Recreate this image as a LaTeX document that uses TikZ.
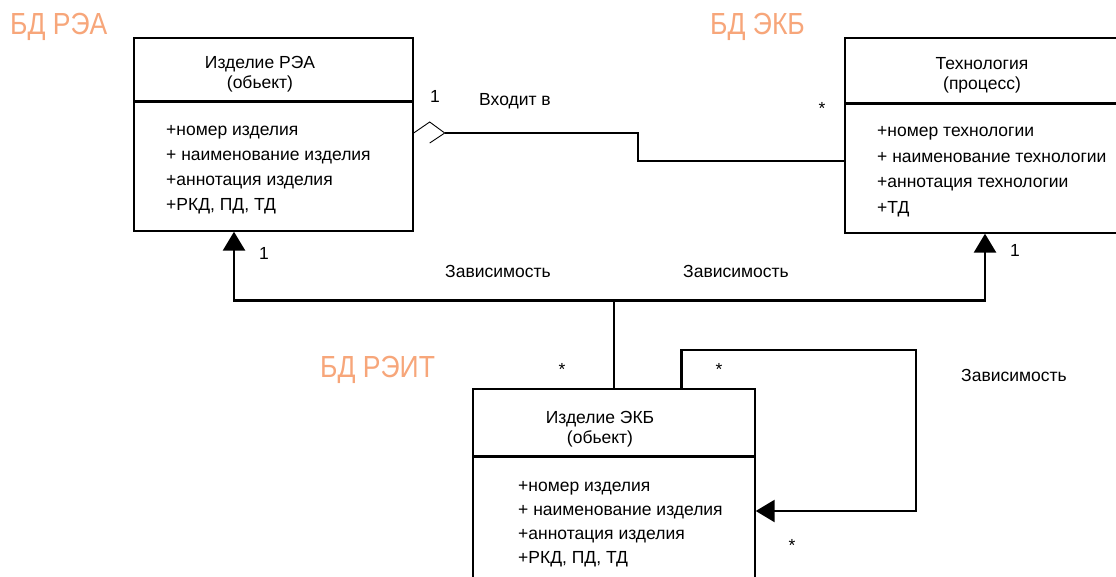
\documentclass[tikz,border=0pt]{standalone}
\usepackage{fontspec}
\setmainfont{Liberation Sans}
\newfontfamily\bdfont[FakeStretch=0.87]{Liberation Sans}
\usetikzlibrary{arrows.meta}
\definecolor{bdorange}{RGB}{247,166,122}
\tikzset{
  umlbox/.style={draw, line width=1.4pt, inner sep=0pt, fill=none},
  divider/.style={line width=3pt},
  conn/.style={line width=2.8pt},
  loopconn/.style={line width=2.5pt},
  deparrow/.style={-{Triangle[width=22pt,length=19pt]}},
  txt/.style={inner sep=0pt, font=\fontsize{17.5}{20}\selectfont},
  attr/.style={txt, anchor=base west},
  ttl/.style={txt, anchor=base},
  lbl/.style={txt, anchor=base},
  bd/.style={inner sep=0pt, anchor=base west, text=bdorange, font=\bdfont\fontsize{30.5}{34}\selectfont}
}
\begin{document}
\begin{tikzpicture}[x=1pt,y=-1pt]
\useasboundingbox (0,0) rectangle (1116,577);
\clip (0,0) rectangle (1116,577);
\fill[white] (0,0) rectangle (1116,577);

% helper heights
\coordinate (h133) at (0,133);
\coordinate (h161) at (0,161);
\coordinate (h511) at (0,511);

% boxes
\node[umlbox, minimum width=279pt, minimum height=193pt] (rea) at (273.5,134.5) {};
\node[umlbox, minimum width=300pt, minimum height=195pt] (tech) at (995,135.5) {};
\node[umlbox, minimum width=282pt, minimum height=221pt] (ekb) at (614,499.5) {};

\draw[divider] ([yshift=-64pt]rea.north west) -- ([yshift=-64pt]rea.north east);
\draw[divider] ([yshift=-66pt]tech.north west) -- ([yshift=-66pt]tech.north east);
\draw[divider] ([yshift=-68pt]ekb.north west) -- ([yshift=-68pt]ekb.north east);

% left box texts
\node[ttl] (reaT1) at (260,69) {Изделие РЭА};
\node[ttl] (reaT2) at (260,89) {(обьект)};
\node[attr] (reaA1) at (166,136) {+номер изделия};
\node[attr] (reaA2) at (166,161) {+ наименование изделия};
\node[attr] (reaA3) at (166,186) {+аннотация изделия};
\node[attr] (reaA4) at (166,211) {+РКД, ПД, ТД};

% right box texts
\node[ttl] (techT1) at (982,70) {Технология};
\node[ttl] (techT2) at (982,90) {(процесс)};
\node[attr] (techA1) at (877,137) {+номер технологии};
\node[attr] (techA2) at (877,163) {+ наименование технологии};
\node[attr] (techA3) at (877,188) {+аннотация технологии};
\node[attr] (techA4) at (877,214) {+ТД};

% bottom box texts
\node[ttl] (ekbT1) at (600,423) {Изделие ЭКБ};
\node[ttl] (ekbT2) at (600,443) {(обьект)};
\node[attr] (ekbA1) at (518,491) {+номер изделия};
\node[attr] (ekbA2) at (518,515) {+ наименование изделия};
\node[attr] (ekbA3) at (518,539) {+аннотация изделия};
\node[attr] (ekbA4) at (518,563) {+РКД, ПД, ТД};

% orange database labels
\node[bd] (bdRea) at (10,35) {БД РЭА};
\node[bd] (bdEkb) at (710,35) {БД ЭКБ};
\node[bd] (bdReit) at (320,377) {БД РЭИТ};

% aggregation "Входит в"
\coordinate (dL) at (rea.east |- h133);
\draw[line width=0.9pt] (dL) -- ++(16,-11) coordinate (dT) -- ++(15,11) coordinate (dR) -- ++(-15,10);
\draw[conn] (dR) -- (638,133) |- (tech.west |- h161);
\node[lbl] (m1) at (435,103) {1};
\node[lbl] (lIn) at (515,106) {Входит в};
\node[lbl] (m2) at (822,115) {*};

% dependencies to upper boxes
\draw[conn] (ekb.north) -- ++(0,-88) coordinate (j);
\draw[conn, deparrow] (j) -| ([xshift=-39.5pt]rea.south);
\draw[conn, deparrow] (j) -| ([xshift=-10pt]tech.south);
\node[lbl] (m3) at (264,260) {1};
\node[lbl] (dep1) at (498,277) {Зависимость};
\node[lbl] (dep2) at (736,277) {Зависимость};
\node[lbl] (m4) at (1015,257) {1};
\node[lbl] (m5) at (562,375) {*};

% self dependency
\coordinate (s0) at ([xshift=209pt]ekb.north west);
\draw[loopconn, deparrow] (s0) |- (916,350) |- (ekb.east |- h511);
\node[lbl] (m6) at (719,375) {*};
\node[lbl] (m7) at (792,551) {*};
\node[lbl] (dep3) at (1014,381) {Зависимость};
\end{tikzpicture}
\end{document}
